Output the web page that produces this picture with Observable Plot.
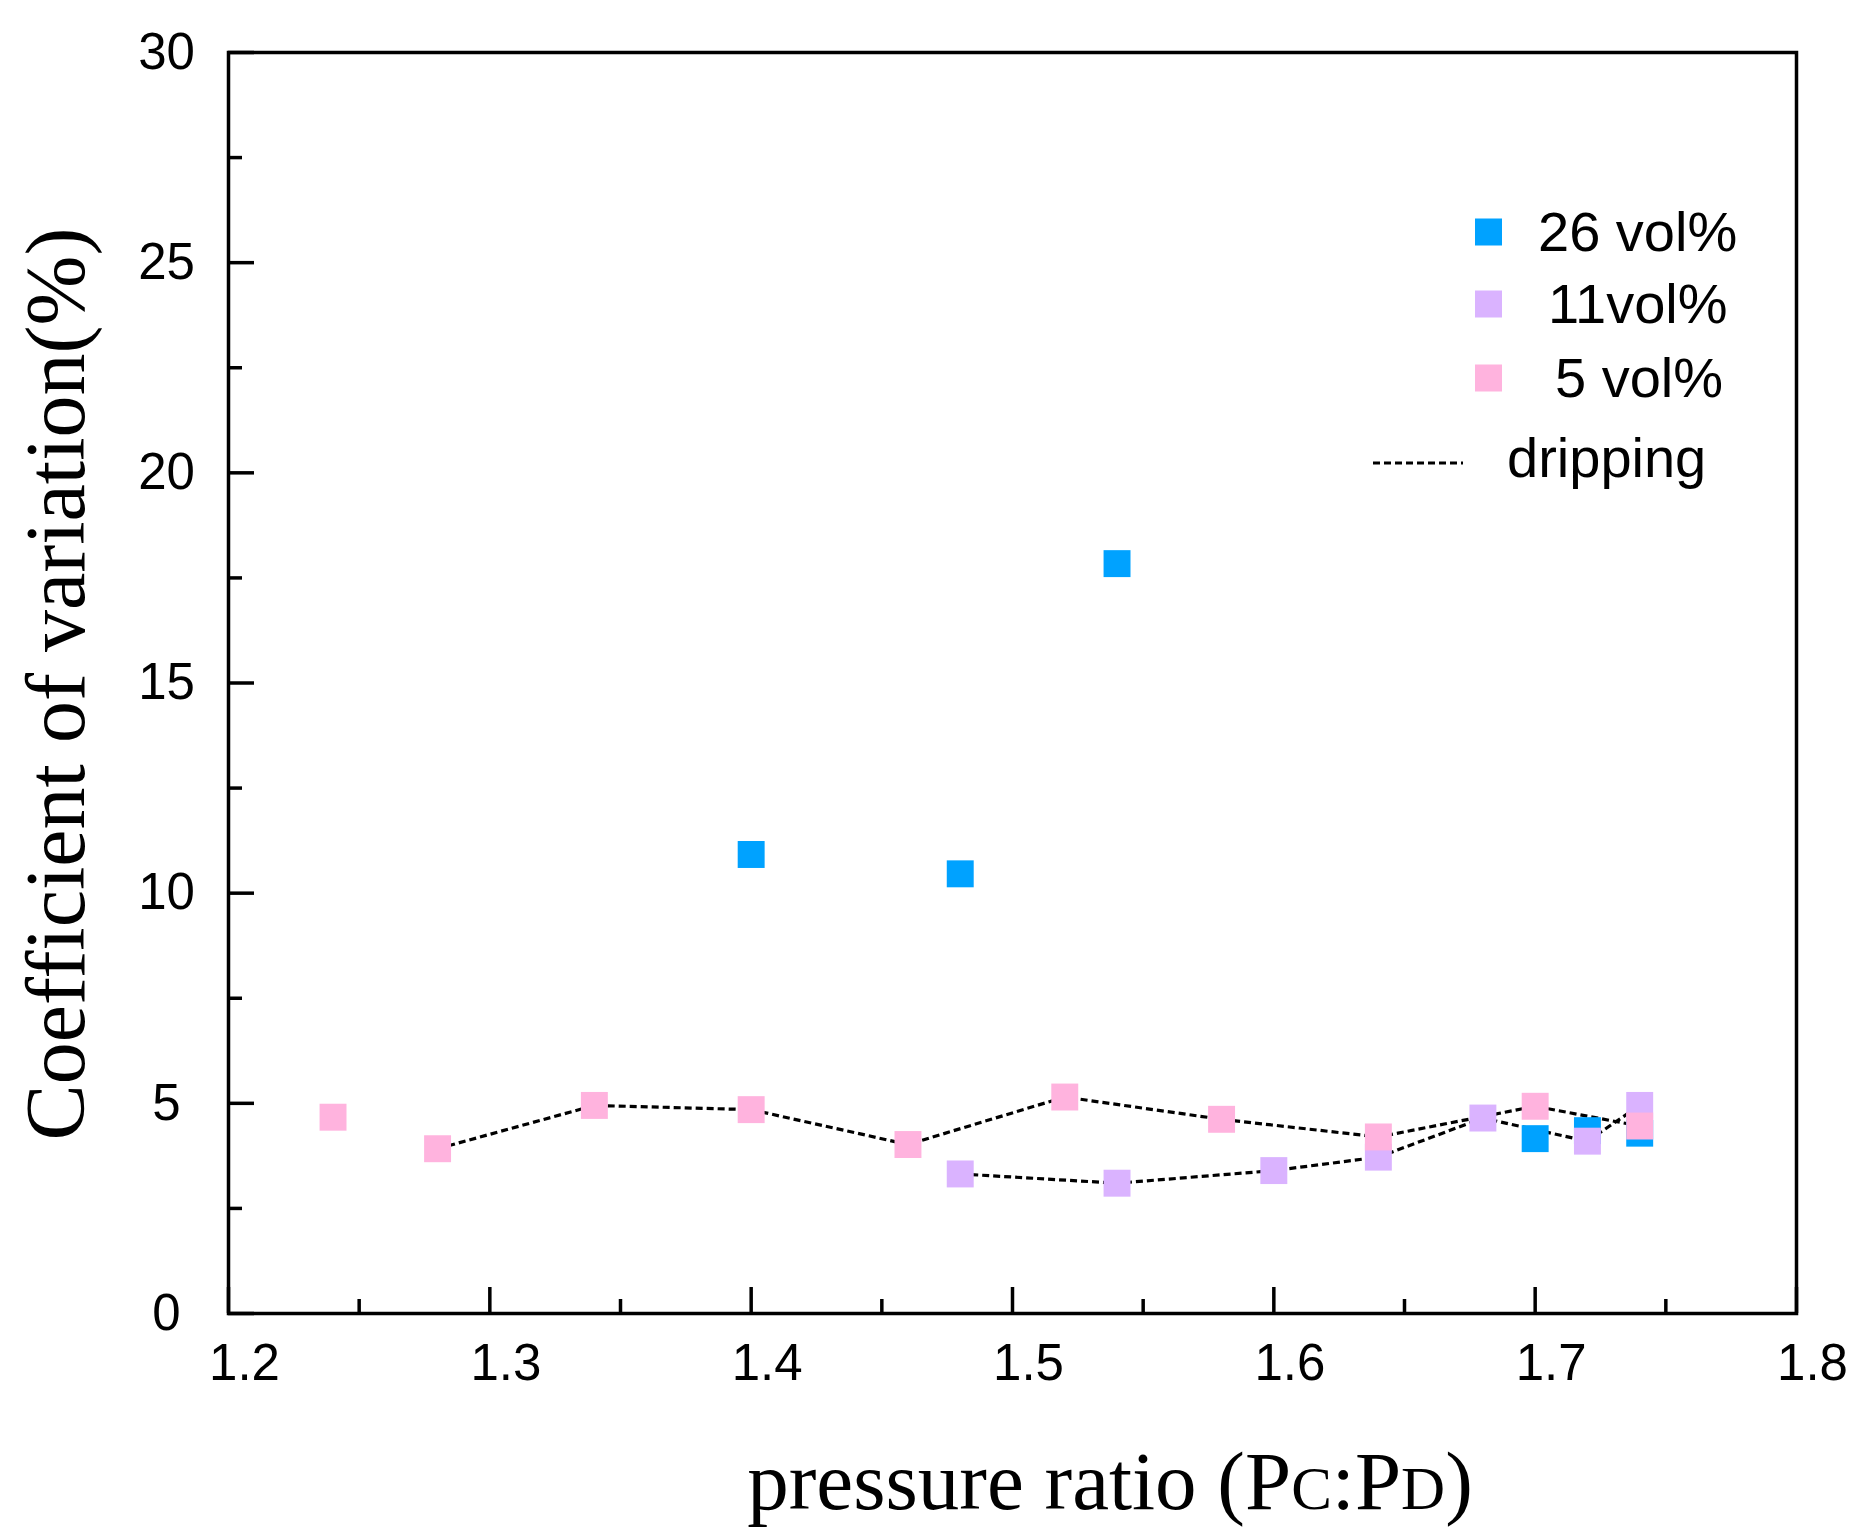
<!DOCTYPE html>
<html lang="en">
<head>
    <meta charset="UTF-8">
    <title>Coefficient of variation</title>
    <script src="https://cdn.jsdelivr.net/npm/d3@7"></script>
    <script src="https://cdn.jsdelivr.net/npm/@observablehq/plot@0.6"></script>
    <style>
        body { margin: 0; background: #fff; }
    </style>
</head>
<body>
    <div id="graph"></div>

    <script>
    // values
    const vol26X = [1.40, 1.48, 1.54, 1.70, 1.72, 1.74];
    const vol26Y = [10.92, 10.46, 17.84, 4.16, 4.35, 4.29];

    const vol11X = [1.48, 1.54, 1.60, 1.64, 1.68, 1.72, 1.74];
    const vol11Y = [3.32, 3.10, 3.40, 3.72, 4.65, 4.10, 4.95];

    const vol5X = [1.24, 1.28, 1.34, 1.40, 1.46, 1.52, 1.58, 1.64, 1.70, 1.74];
    const vol5Y = [4.67, 3.92, 4.95, 4.85, 4.02, 5.15, 4.62, 4.20, 4.93, 4.46];

    // points joined by the "dripping" dashed line
    const drip5X = [1.28, 1.34, 1.40, 1.46, 1.52, 1.58, 1.64, 1.70, 1.74];
    const drip11X = [1.48, 1.54, 1.60, 1.64, 1.68, 1.72, 1.74];

    const xMajor = [1.2, 1.3, 1.4, 1.5, 1.6, 1.7, 1.8];
    const xMinor = [1.25, 1.35, 1.45, 1.55, 1.65, 1.75];
    const yMajor = [0, 5, 10, 15, 20, 25, 30];
    const yMinor = [2.5, 7.5, 12.5, 17.5, 22.5, 27.5];

    const series = [
        {name: "26 vol%", xs: vol26X, ys: vol26Y, color: "#00a2ff"},
        {name: "11vol%", xs: vol11X, ys: vol11Y, color: "#dab3ff"},
        {name: "5 vol%", xs: vol5X, ys: vol5Y, color: "#ffb3de"}
    ];

    const toRows = (xs, ys) => xs.map((x, i) => ({x, y: ys[i]}));
    const pick = (dripXs, xs, ys) => dripXs.map(x => ({x, y: ys[xs.indexOf(x)]}));

    const W = 1865, H = 1529;
    const mL = 228, mR = 69, mT = 52, mB = 216;
    const innerW = W - mL - mR, innerH = H - mT - mB;

    const dashed = {stroke: "black", strokeWidth: 3.2, strokeDasharray: "7,4", strokeLinecap: "butt"};

    const plot = Plot.plot({
        width: W,
        height: H,
        marginLeft: mL, marginRight: mR, marginTop: mT, marginBottom: mB,
        style: {fontFamily: "Liberation Sans, Arial, sans-serif", color: "black", background: "white"},
        x: {domain: [1.2, 1.8]},
        y: {domain: [0, 30]},
        marks: [
            Plot.line(pick(drip5X, vol5X, vol5Y), {x: "x", y: "y", ...dashed}),
            Plot.line(pick(drip11X, vol11X, vol11Y), {x: "x", y: "y", ...dashed}),
            ...series.map(s => Plot.dot(toRows(s.xs, s.ys), {
                x: "x", y: "y", symbol: "square", r: 15.2, fill: s.color
            })),
            // inward ticks
            Plot.tickX(xMajor, {x: d => d, insetTop: innerH - 26, stroke: "black", strokeWidth: 3.5}),
            Plot.tickX(xMinor, {x: d => d, insetTop: innerH - 14, stroke: "black", strokeWidth: 3.5}),
            Plot.tickY(yMajor, {y: d => d, insetRight: innerW - 26, stroke: "black", strokeWidth: 3.5}),
            Plot.tickY(yMinor, {y: d => d, insetRight: innerW - 14, stroke: "black", strokeWidth: 3.5}),
            Plot.axisX({ticks: xMajor, tickSize: 0, tickPadding: 30, dx: 16, fontSize: 51,
                tickFormat: d3.format(".1f"), label: null}),
            Plot.axisY({ticks: yMajor, tickSize: 0, tickPadding: 62, textAnchor: "middle",
                fontSize: 51, label: null}),
            Plot.frame({stroke: "black", strokeWidth: 3.5})
        ]
    });

    const svg = d3.select(plot);

    // axis titles
    svg.append("text")
        .attr("transform", "translate(84,684) rotate(-90)")
        .attr("text-anchor", "middle")
        .attr("font-family", "Liberation Serif, Times New Roman, serif")
        .attr("font-size", 84)
        .attr("fill", "black")
        .text("Coefficient of variation(%)");

    const xt = svg.append("text")
        .attr("x", 1110).attr("y", 1509)
        .attr("text-anchor", "middle")
        .attr("font-family", "Liberation Serif, Times New Roman, serif")
        .attr("font-size", 83)
        .attr("fill", "black");
    xt.append("tspan").text("pressure ratio (P");
    xt.append("tspan").attr("font-size", 61).text("C");
    xt.append("tspan").text(":P");
    xt.append("tspan").attr("font-size", 61).text("D");
    xt.append("tspan").text(")");

    // legend
    const lg = svg.append("g")
        .attr("font-family", "Liberation Sans, Arial, sans-serif")
        .attr("font-size", 56)
        .attr("text-anchor", "start")
        .attr("fill", "black");
    const legendY = [232, 304, 378];
    const legendTextX = [1538, 1548, 1555];
    series.forEach((s, i) => {
        lg.append("rect")
            .attr("x", 1475).attr("y", legendY[i] - 13.5)
            .attr("width", 27).attr("height", 27)
            .attr("fill", s.color);
        lg.append("text")
            .attr("x", legendTextX[i]).attr("y", legendY[i] + 19)
            .text(s.name);
    });
    lg.append("line")
        .attr("x1", 1373).attr("x2", 1463).attr("y1", 463).attr("y2", 463)
        .attr("stroke", "black").attr("stroke-width", 3.2).attr("stroke-dasharray", "7,4");
    lg.append("text").attr("x", 1507).attr("y", 477).text("dripping");

    document.querySelector("#graph").append(plot);
    </script>
</body>
</html>
